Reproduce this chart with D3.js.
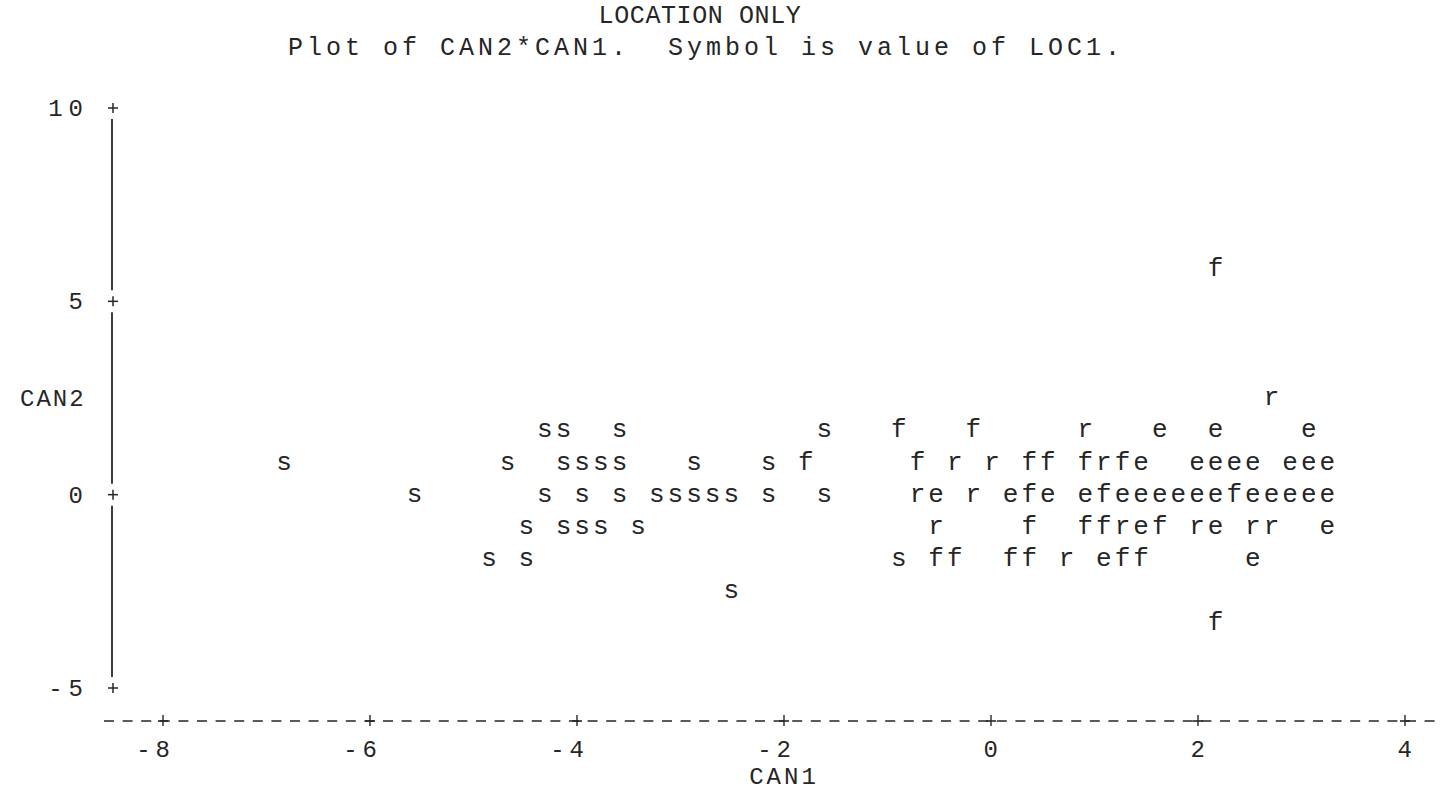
<!DOCTYPE html>
<html>
<head>
<meta charset="utf-8">
<script src="https://cdn.jsdelivr.net/npm/d3@7"></script>
<style>
  html, body { margin: 0; padding: 0; background: #ffffff; }
  svg text { font-family: "Liberation Mono", "DejaVu Sans Mono", monospace; fill: #262626; }
</style>
</head>
<body>
<svg id="chart" width="1440" height="794"></svg>
<script>
// ---- text ----
const titleMain = "LOCATION ONLY";
const titleSub = "Plot of CAN2*CAN1.  Symbol is value of LOC1.";
const xName = "CAN1";
const yName = "CAN2";
const xTickValues = [-8, -6, -4, -2, 0, 2, 4];
const yTickValues = [10, 5, 0, -5];

// ---- observations: plotting symbol (LOC1), CAN1, CAN2 ----
const loc1 = [
  "f",
  "r",
  "s","s","s","s","f","f","r","e","e","e",
  "s","s","s","s","s","s","s","s","f","f","r","r","f","f","f","r","f","e","e","e","e","e","e","e","e",
  "s","s","s","s","s","s","s","s","s","s","s","r","e","r","e","f","e","e","f","e","e","e","e","e","e","f","e","e","e","e","e",
  "s","s","s","s","s","r","f","f","f","r","e","f","r","e","r","r","e",
  "s","s","s","f","f","f","f","r","e","f","f","e",
  "s",
  "f"
];
const can1 = [
  2.17,
  2.71,
  -4.31, -4.13, -3.59, -1.61, -0.89, -0.17, 0.91, 1.63, 2.17, 3.07,
  -6.83, -4.67, -4.13, -3.95, -3.77, -3.59, -2.87, -2.15, -1.79, -0.71, -0.35, 0.01, 0.37, 0.55, 0.91, 1.09, 1.27, 1.45, 1.99, 2.17, 2.35, 2.53, 2.89, 3.07, 3.25,
  -5.57, -4.31, -3.95, -3.59, -3.23, -3.05, -2.87, -2.69, -2.51, -2.15, -1.61, -0.71, -0.53, -0.17, 0.19, 0.37, 0.55, 0.91, 1.09, 1.27, 1.45, 1.63, 1.81, 1.99, 2.17, 2.35, 2.53, 2.71, 2.89, 3.07, 3.25,
  -4.49, -4.13, -3.95, -3.77, -3.41, -0.53, 0.37, 0.91, 1.09, 1.27, 1.45, 1.63, 1.99, 2.17, 2.53, 2.71, 3.25,
  -4.85, -4.49, -0.89, -0.53, -0.35, 0.19, 0.37, 0.73, 1.09, 1.27, 1.45, 2.53,
  -2.51,
  2.17
];
const can2 = [
  5.83,
  2.50,
  1.67, 1.67, 1.67, 1.67, 1.67, 1.67, 1.67, 1.67, 1.67, 1.67,
  0.83, 0.83, 0.83, 0.83, 0.83, 0.83, 0.83, 0.83, 0.83, 0.83, 0.83, 0.83, 0.83, 0.83, 0.83, 0.83, 0.83, 0.83, 0.83, 0.83, 0.83, 0.83, 0.83, 0.83, 0.83,
  0, 0, 0, 0, 0, 0, 0, 0, 0, 0, 0, 0, 0, 0, 0, 0, 0, 0, 0, 0, 0, 0, 0, 0, 0, 0, 0, 0, 0, 0, 0,
  -0.83, -0.83, -0.83, -0.83, -0.83, -0.83, -0.83, -0.83, -0.83, -0.83, -0.83, -0.83, -0.83, -0.83, -0.83, -0.83, -0.83,
  -1.67, -1.67, -1.67, -1.67, -1.67, -1.67, -1.67, -1.67, -1.67, -1.67, -1.67, -1.67,
  -2.50,
  -3.33
];

const points = loc1.map((s, i) => ({ sym: s, x: can1[i], y: can2[i] }));

// ---- layout ----
const svg = d3.select("#chart");
const x = d3.scaleLinear().domain([-8, 4]).range([163, 1405]);
const y = d3.scaleLinear().domain([-5, 10]).range([688, 108]);
const axisX = 112;          // vertical axis position
const axisY = 721;          // horizontal axis position
const ink = "#262626";

// titles
svg.append("text")
  .attr("x", 700).attr("y", 23)
  .attr("text-anchor", "middle")
  .style("font-size", "25px")
  .style("letter-spacing", "0.6px")
  .text(titleMain);

svg.append("text")
  .attr("x", 288).attr("y", 55)
  .style("font-size", "25px")
  .style("letter-spacing", "4px")
  .attr("xml:space", "preserve")
  .style("white-space", "pre")
  .text(titleSub);

// ---- vertical axis: "|" column with "+" ticks ----
const yt = yTickValues.slice().sort((a, b) => b - a);
for (let i = 0; i < yt.length - 1; i++) {
  svg.append("line")
    .attr("x1", axisX).attr("x2", axisX)
    .attr("y1", y(yt[i]) + 11).attr("y2", y(yt[i + 1]) - 11)
    .attr("stroke", ink).attr("stroke-width", 1.8);
}
const yTick = svg.append("g").selectAll("g").data(yTickValues).join("g")
  .attr("transform", d => `translate(${axisX + 1},${y(d)})`);
yTick.append("line").attr("x1", -5).attr("x2", 5).attr("y1", 0).attr("y2", 0)
  .attr("stroke", ink).attr("stroke-width", 1.5);
yTick.append("line").attr("x1", 0).attr("x2", 0).attr("y1", -5).attr("y2", 5)
  .attr("stroke", ink).attr("stroke-width", 1.5);
yTick.append("text")
  .attr("x", -30 + 6).attr("y", 8)
  .attr("text-anchor", "end")
  .style("font-size", "24px")
  .style("letter-spacing", "6px")
  .text(d => d);

svg.append("text")
  .attr("x", 20).attr("y", y(2.5) + 8)
  .style("font-size", "24px")
  .style("letter-spacing", "2px")
  .text(yName);

// ---- horizontal axis: dashed line with "+" ticks ----
svg.append("line")
  .attr("x1", 104).attr("x2", 1440)
  .attr("y1", axisY).attr("y2", axisY)
  .attr("stroke", ink).attr("stroke-width", 1.6)
  .attr("stroke-dasharray", "10 8.6");

const xTick = svg.append("g").selectAll("g").data(xTickValues).join("g")
  .attr("transform", d => `translate(${x(d)},${axisY})`);
xTick.append("line").attr("x1", -5).attr("x2", 5).attr("y1", 0).attr("y2", 0)
  .attr("stroke", ink).attr("stroke-width", 1.6);
xTick.append("line").attr("x1", 0).attr("x2", 0).attr("y1", -6).attr("y2", 5)
  .attr("stroke", ink).attr("stroke-width", 1.4);
xTick.append("text")
  .attr("x", 7 + 5).attr("y", 36)
  .attr("text-anchor", "end")
  .style("font-size", "24px")
  .style("letter-spacing", "5px")
  .text(d => d);

svg.append("text")
  .attr("x", x(-2)).attr("y", 784)
  .attr("text-anchor", "middle")
  .style("font-size", "24px")
  .style("letter-spacing", "3px")
  .text(xName);

// ---- plotting symbols ----
svg.append("g").selectAll("text").data(points).join("text")
  .attr("x", d => x(d.x))
  .attr("y", d => y(d.y))
  .attr("dy", "0.27em")
  .attr("text-anchor", "middle")
  .style("font-size", "26px")
  .text(d => d.sym);
</script>
</body>
</html>
